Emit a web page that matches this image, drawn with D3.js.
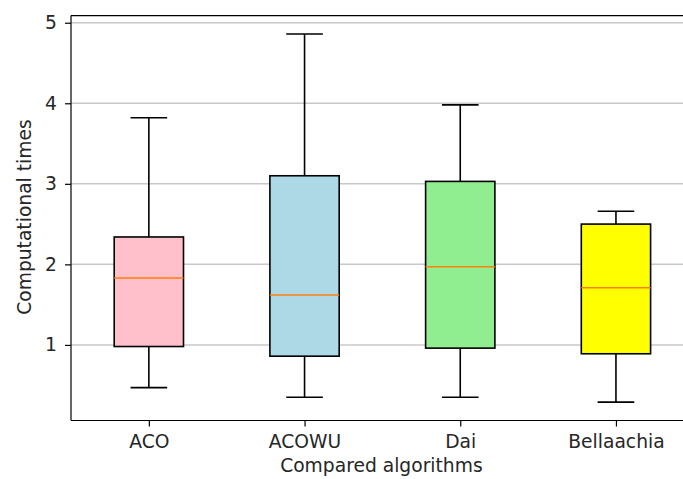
<!DOCTYPE html>
<html>
<head>
<meta charset="utf-8">
<script src="https://cdn.jsdelivr.net/npm/d3@7"></script>
<style>
  html, body { margin: 0; padding: 0; background: #fff; }
  svg { display: block; font-family: "DejaVu Sans", sans-serif; }
</style>
</head>
<body>
<svg id="chart" width="683" height="479"></svg>
<script>
const categories = ["ACO", "ACOWU", "Dai", "Bellaachia"];
const whiskerLow  = [0.47, 0.35, 0.35, 0.29];
const q1          = [0.98, 0.86, 0.96, 0.89];
const medians     = [1.83, 1.62, 1.97, 1.71];
const q3          = [2.34, 3.10, 3.03, 2.50];
const whiskerHigh = [3.82, 4.86, 3.98, 2.66];
const boxColors   = ["pink", "lightblue", "lightgreen", "yellow"];
const yTicks      = [1, 2, 3, 4, 5];
const xLabel = "Compared algorithms";
const yLabel = "Computational times";

(function () {
const data = categories.map((c, i) => ({
  name: c, pos: i + 1, lo: whiskerLow[i], q1: q1[i], med: medians[i],
  q3: q3[i], hi: whiskerHigh[i], color: boxColors[i]
}));

const svg = d3.select("#chart");
const fontSize = 18.7;
const textColor = "#262626";

// scales (matplotlib-like auto margins of 5%)
const dmin = d3.min(whiskerLow), dmax = d3.max(whiskerHigh);
const pad = (dmax - dmin) * 0.05;
const pTop = 15.6, pBottom = 420.5, pLeft = 71, pRight = 693.8;
const y = d3.scaleLinear().domain([dmin - pad, dmax + pad]).range([pBottom, pTop]);
const x = d3.scaleLinear().domain([0.5, categories.length + 0.5]).range([pLeft, pRight]);
const unit = x(2) - x(1);
const boxW = 0.445 * unit;
const capW = boxW / 2 + 2;

// gridlines
svg.append("g").selectAll("line").data(yTicks).join("line")
  .attr("x1", pLeft).attr("x2", pRight)
  .attr("y1", d => y(d)).attr("y2", d => y(d))
  .attr("stroke", "#b0b0b0").attr("stroke-opacity", 0.7).attr("stroke-width", 1.5);

// boxes
const g = svg.append("g");
const b = g.selectAll("g.box").data(data).join("g").attr("class", "box");
const lw = 1.6;
b.append("line").attr("x1", d => x(d.pos)).attr("x2", d => x(d.pos))
  .attr("y1", d => y(d.lo)).attr("y2", d => y(d.q1)).attr("stroke", "#000").attr("stroke-width", lw);
b.append("line").attr("x1", d => x(d.pos)).attr("x2", d => x(d.pos))
  .attr("y1", d => y(d.q3)).attr("y2", d => y(d.hi)).attr("stroke", "#000").attr("stroke-width", lw);
b.append("line").attr("x1", d => x(d.pos) - capW / 2).attr("x2", d => x(d.pos) + capW / 2)
  .attr("y1", d => y(d.lo)).attr("y2", d => y(d.lo)).attr("stroke", "#000").attr("stroke-width", lw);
b.append("line").attr("x1", d => x(d.pos) - capW / 2).attr("x2", d => x(d.pos) + capW / 2)
  .attr("y1", d => y(d.hi)).attr("y2", d => y(d.hi)).attr("stroke", "#000").attr("stroke-width", lw);
b.append("rect")
  .attr("x", d => x(d.pos) - boxW / 2).attr("width", boxW)
  .attr("y", d => y(d.q3)).attr("height", d => y(d.q1) - y(d.q3))
  .attr("fill", d => d.color).attr("stroke", "#000").attr("stroke-width", lw);
b.append("line").attr("x1", d => x(d.pos) - boxW / 2).attr("x2", d => x(d.pos) + boxW / 2)
  .attr("y1", d => y(d.med)).attr("y2", d => y(d.med))
  .attr("stroke", "#ff7f0e").attr("stroke-width", 1.6);

// axes
const yAxis = svg.append("g").attr("transform", `translate(${pLeft},0)`)
  .call(d3.axisLeft(y).tickValues(yTicks).tickFormat(d3.format("d")).tickSize(6).tickPadding(8));
const xAxis = svg.append("g").attr("transform", `translate(0,${pBottom})`)
  .call(d3.axisBottom(x).tickValues(data.map(d => d.pos)).tickFormat((d, i) => categories[i]).tickSize(6).tickPadding(8));
[yAxis, xAxis].forEach(a => {
  a.select(".domain").remove();
  a.selectAll(".tick line").attr("stroke", "#000").attr("stroke-width", 1.2);
  a.selectAll(".tick text").attr("fill", textColor).style("font-size", fontSize + "px")
    .style("font-family", "DejaVu Sans, sans-serif");
});

// spines
const spine = (x1, y1, x2, y2) => svg.append("line").attr("x1", x1).attr("y1", y1)
  .attr("x2", x2).attr("y2", y2).attr("stroke", "#000").attr("stroke-width", 1.2);
spine(pLeft, pTop, pLeft, pBottom);
spine(pLeft, pBottom, pRight, pBottom);
spine(pLeft, pTop, pRight, pTop);
spine(pRight, pTop, pRight, pBottom);

// labels
svg.append("text").attr("x", (pLeft + pRight) / 2 - 1).attr("y", 472)
  .attr("text-anchor", "middle").attr("fill", textColor).style("font-size", fontSize + "px")
  .text(xLabel);
svg.append("text").attr("transform", `translate(31,${(pTop + pBottom) / 2 - 1}) rotate(-90)`)
  .attr("text-anchor", "middle").attr("fill", textColor).style("font-size", fontSize + "px")
  .text(yLabel);
})();
</script>
</body>
</html>
